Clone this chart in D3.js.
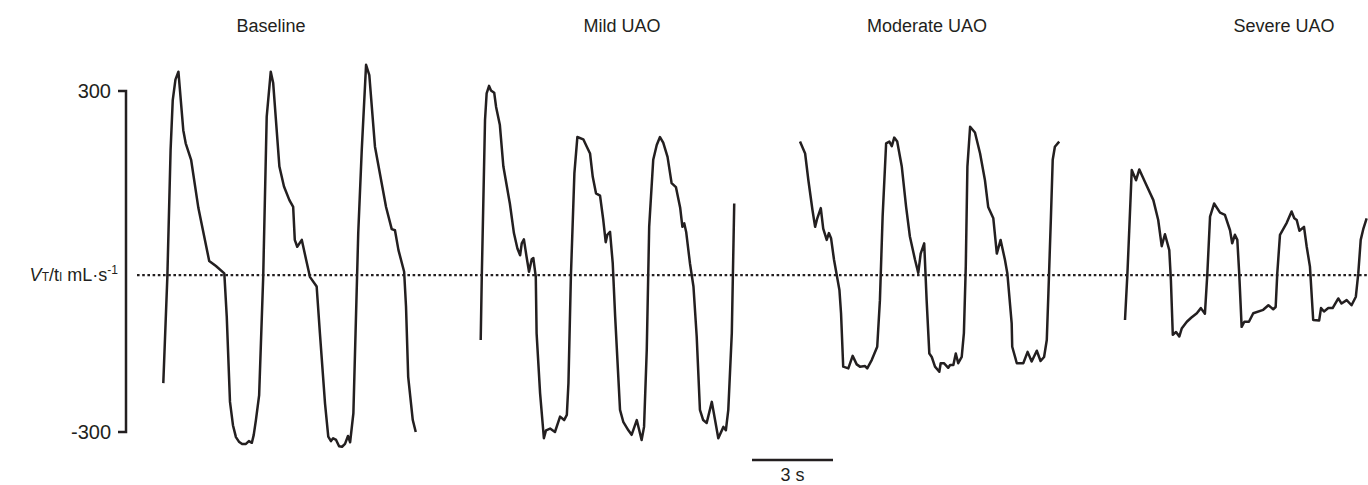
<!DOCTYPE html>
<html>
<head>
<meta charset="utf-8">
<script src="https://cdn.jsdelivr.net/npm/d3@7"></script>
<style>
  body { margin: 0; background: #fff; }
  text { font-family: "Liberation Sans", Arial, sans-serif; fill: #231f20; }
</style>
</head>
<body>
<div class="trace"></div>
<script>
//Width and height
var w = 1368;
var h = 485;

//Panel names
var panels = ["Baseline", "Mild UAO", "Moderate UAO", "Severe UAO"];

//Flow values (mL/s) per panel, time in s from the start of each panel
var baselineT = [0, .15, .27, .35, .45, .56, .74, .83, 1.03, 1.30, 1.70, 1.95, 2.26, 2.35, 2.47, 2.58, 2.69, 2.80, 2.92, 3.06, 3.17, 3.28, 3.35, 3.43, 3.55, 3.70, 3.83, 3.98, 4.07, 4.30, 4.47, 4.67, 4.81, 4.87, 4.96, 5.13, 5.29, 5.43, 5.68, 5.80, 5.99, 6.11, 6.21, 6.29, 6.40, 6.51, 6.62, 6.73, 6.84, 6.92, 7.04, 7.22, 7.35, 7.51, 7.63, 7.84, 8.25, 8.46, 8.58, 8.71, 8.92, 8.99, 9.07, 9.24, 9.35];
var baselineV = [-214, -27, 196, 284, 320, 334, 231, 208, 179, 94, 1, -8, -21, -97, -247, -288, -309, -317, -321, -321, -316, -319, -305, -279, -235, -27, 255, 334, 314, 167, 132, 108, 96, 38, 26, 38, 3, -27, -44, -126, -250, -308, -316, -311, -314, -325, -326, -321, -307, -318, -267, 50, 196, 346, 328, 202, 96, 57, 55, 20, -18, -80, -203, -279, -300];

var mildT = [0, .04, .16, .22, .31, .38, .50, .57, .71, .84, 1.08, 1.23, 1.36, 1.46, 1.52, 1.60, 1.70, 1.79, 1.89, 1.95, 2.04, 2.07, 2.20, 2.34, 2.42, 2.57, 2.75, 2.94, 3.09, 3.19, 3.25, 3.34, 3.47, 3.58, 3.80, 3.93, 4.05, 4.15, 4.27, 4.42, 4.54, 4.63, 4.69, 4.79, 4.89, 4.98, 5.16, 5.28, 5.47, 5.59, 5.78, 5.96, 6.05, 6.15, 6.24, 6.39, 6.52, 6.64, 6.76, 6.92, 7.07, 7.23, 7.39, 7.47, 7.54, 7.61, 7.75, 7.88, 8.00, 8.12, 8.24, 8.37, 8.56, 8.68, 8.80, 8.99, 9.08, 9.17, 9.30, 9.39];
var mildV = [-138, -27, 249, 296, 309, 301, 297, 272, 240, 167, 102, 50, 23, 11, 32, 39, 8, -18, 4, 6, -27, -126, -232, -311, -297, -294, -300, -273, -279, -270, -214, -27, 155, 219, 215, 202, 190, 149, 120, 116, 73, 34, 47, 52, -3, -97, -261, -282, -297, -305, -279, -314, -291, -156, 61, 179, 205, 219, 209, 184, 138, 131, 94, 61, 67, 52, -3, -44, -132, -261, -279, -284, -247, -279, -311, -291, -297, -261, -126, 102];

var moderateT = [0, .19, .31, .46, .56, .64, .77, .86, .99, 1.07, 1.15, 1.26, 1.46, 1.52, 1.60, 1.79, 1.95, 2.10, 2.22, 2.41, 2.49, 2.66, 2.86, 2.96, 3.06, 3.19, 3.31, 3.40, 3.49, 3.60, 3.77, 3.93, 4.07, 4.26, 4.38, 4.47, 4.60, 4.69, 4.79, 4.88, 5.00, 5.16, 5.21, 5.33, 5.49, 5.56, 5.68, 5.77, 5.86, 5.99, 6.07, 6.14, 6.20, 6.30, 6.48, 6.67, 6.85, 6.97, 7.16, 7.29, 7.43, 7.59, 7.68, 7.84, 7.86, 8.03, 8.27, 8.43, 8.58, 8.77, 8.91, 9.04, 9.14, 9.20, 9.29, 9.36, 9.44, 9.60];
var moderateV = [211, 190, 143, 91, 61, 76, 94, 58, 38, 50, 41, 3, -50, -91, -185, -188, -166, -181, -185, -184, -188, -173, -150, -68, 79, 208, 211, 203, 218, 211, 167, 96, 44, 3, -20, 14, 32, -68, -162, -168, -185, -194, -179, -179, -187, -182, -182, -162, -179, -168, -126, -9, 167, 237, 227, 190, 143, 96, 76, 14, 38, 3, -21, -109, -150, -179, -179, -159, -176, -157, -175, -168, -138, -56, 73, 179, 202, 211];

var severeT = [0, .09, .25, .41, .53, .74, 1.05, 1.23, 1.36, 1.48, 1.64, 1.70, 1.77, 1.89, 2.01, 2.10, 2.29, 2.45, 2.66, 2.81, 2.96, 3.05, 3.15, 3.30, 3.52, 3.70, 3.89, 3.97, 4.07, 4.16, 4.23, 4.32, 4.42, 4.59, 4.75, 5.12, 5.31, 5.49, 5.58, 5.64, 5.74, 5.99, 6.17, 6.27, 6.36, 6.46, 6.63, 6.73, 6.85, 6.97, 7.19, 7.26, 7.37, 7.53, 7.69, 7.90, 8.02, 8.21, 8.39, 8.55, 8.64, 8.73, 8.83, 8.95];
var severeV = [-103, -21, 161, 143, 162, 140, 108, 73, 27, 48, 20, -33, -129, -124, -132, -118, -106, -99, -91, -82, -92, -21, 79, 102, 86, 82, 55, 32, 47, 38, -21, -115, -106, -106, -91, -85, -77, -84, -80, -21, 47, 68, 88, 76, 73, 54, 61, 26, -9, -103, -104, -82, -88, -82, -82, -65, -74, -68, -77, -62, -21, 38, 58, 76];

//Axis ticks and the dotted reference level
var yTicks = [300, -300];
var refLevel = -24;
var scaleBarSeconds = 3;

var series = [
    { t: baselineT, v: baselineV },
    { t: mildT, v: mildV },
    { t: moderateT, v: moderateV },
    { t: severeT, v: severeV }
];

//Layout
var panelStart = [163.3, 480.7, 800, 1125];
var titleX = [271, 622, 927, 1284];
var pxPerSecond = 27;
var ink = "#231f20";

var svg = d3.select(".trace")
    .append("svg")
    .attr("width", w)
    .attr("height", h);

var yScale = d3.scaleLinear()
    .domain([-300, 300])
    .range([432, 91]);

//Panel titles
svg.selectAll(".title")
    .data(panels)
    .enter()
    .append("text")
    .attr("class", "title")
    .attr("x", (d, i) => titleX[i])
    .attr("y", 32)
    .attr("text-anchor", "middle")
    .style("font-size", "18px")
    .text((d) => d);

//Dotted line
svg.append("line")
    .attr("x1", 137)
    .attr("x2", w)
    .attr("y1", yScale(refLevel))
    .attr("y2", yScale(refLevel))
    .attr("stroke", ink)
    .attr("stroke-width", 2.4)
    .attr("stroke-dasharray", "2.6,2.6");

//Traces
var line = d3.line()
    .x((d) => d[0])
    .y((d) => d[1]);

series.forEach((s, i) => {
    var xScale = d3.scaleLinear()
        .domain([0, 1])
        .range([panelStart[i], panelStart[i] + pxPerSecond]);
    var pts = s.t.map((t, j) => [xScale(t), yScale(s.v[j])]);
    svg.append("path")
        .attr("d", line(pts))
        .attr("fill", "none")
        .attr("stroke", ink)
        .attr("stroke-width", 2.5)
        .attr("stroke-linejoin", "round");
});

//Y axis as a bracket
var yAxis = d3.axisLeft(yScale)
    .tickValues(yTicks)
    .tickSize(8)
    .tickPadding(7)
    .tickFormat((d) => String(d));
var gy = svg.append("g")
    .attr("transform", "translate(126, 0)")
    .call(yAxis);
gy.select(".domain")
    .attr("d", "M-8," + yScale(300) + "H0V" + yScale(-300) + "H-8")
    .attr("stroke", ink)
    .attr("stroke-width", 2.5);
gy.selectAll(".tick line").remove();
gy.selectAll(".tick text")
    .style("font-size", "20px")
    .style("font-family", "'Liberation Sans', Arial, sans-serif")
    .attr("fill", ink);

//Y label
var lab = svg.append("text")
    .attr("x", 118)
    .attr("y", yScale(refLevel) + 6)
    .attr("text-anchor", "end")
    .style("font-size", "18px");
lab.append("tspan").style("font-style", "italic").text("V");
lab.append("tspan").style("font-size", "12px").text("T");
lab.append("tspan").text("/t");
lab.append("tspan").style("font-size", "12px").text("I");
lab.append("tspan").text(" mL·s");
lab.append("tspan").attr("dy", -7).style("font-size", "12px").text("-1");

//Time scale bar
var barScale = d3.scaleLinear()
    .domain([0, scaleBarSeconds])
    .range([752, 752 + scaleBarSeconds * pxPerSecond]);
svg.append("line")
    .attr("x1", barScale(0))
    .attr("x2", barScale(scaleBarSeconds))
    .attr("y1", 460)
    .attr("y2", 460)
    .attr("stroke", ink)
    .attr("stroke-width", 2.5);
svg.append("text")
    .attr("x", (barScale(0) + barScale(scaleBarSeconds)) / 2)
    .attr("y", 481)
    .attr("text-anchor", "middle")
    .style("font-size", "18px")
    .text(scaleBarSeconds + " s");
</script>
</body>
</html>
